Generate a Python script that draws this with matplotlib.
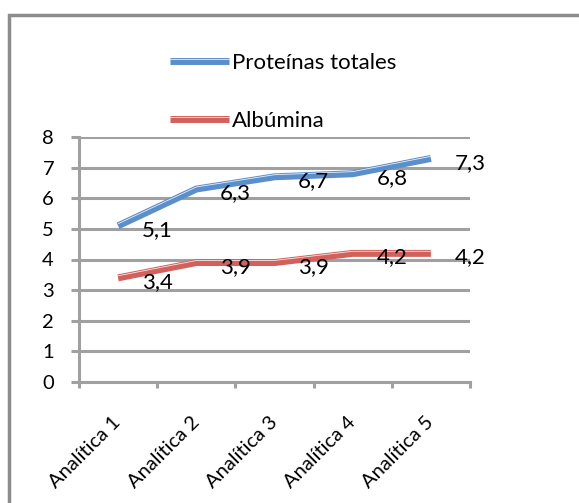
import matplotlib.pyplot as plt
import matplotlib.patheffects as pe
from matplotlib.patches import Rectangle
import numpy as np

# Series and category labels
analiticas = ['Analítica 1', 'Analítica 2', 'Analítica 3', 'Analítica 4', 'Analítica 5']
proteinas_totales = [5.1, 6.3, 6.7, 6.8, 7.3]
albumina = [3.4, 3.9, 3.9, 4.2, 4.2]

plt.rcParams['font.family'] = ['Lato', 'DejaVu Sans']

W, H, DPI = 579, 503, 100
fig = plt.figure(figsize=(W / DPI, H / DPI), dpi=DPI)
ax = fig.add_axes([79 / W, 1 - 382 / H, (470 - 79) / W, (382 - 137) / H])

gray = '#a0a0a0'
x = np.arange(len(analiticas))


def bevel(color):
    # thick line with a thin light edge on top
    return [pe.Stroke(linewidth=5.0, foreground=color, capstyle='butt'),
            pe.Stroke(linewidth=0.6, foreground='white', alpha=0.85, offset=(0, 1.5)),
            ]


series = [('Proteínas totales', proteinas_totales, '#5b8fcc'),
          ('Albúmina', albumina, '#d2605b')]
for name, vals, color in series:
    ax.plot(x, vals, color=color, lw=5.0, solid_joinstyle='round',
            solid_capstyle='butt', label=name, path_effects=bevel(color), zorder=3)
    for xi, v in zip(x, vals):
        ax.annotate(f'{v:.1f}'.replace('.', ','), (xi, v), xytext=(17, -3),
                    textcoords='offset points', ha='left', va='center',
                    fontsize=16, color='black', zorder=4)

ax.set_xlim(-0.5, len(analiticas) - 0.5)
ax.set_ylim(0, 8)
ax.set_yticks(range(0, 9))
ax.yaxis.grid(True, color=gray, lw=2.2)
ax.set_axisbelow(True)

for s in ['top', 'right']:
    ax.spines[s].set_visible(False)
for s in ['left', 'bottom']:
    ax.spines[s].set_color(gray)
    ax.spines[s].set_linewidth(2.2)

ax.tick_params(axis='y', direction='out', length=6, width=2.2, color=gray,
               labelsize=14.5, pad=12)
ax.set_xticks(x)
ax.set_xticklabels(analiticas, rotation=45, ha='right', va='center',
                   rotation_mode='anchor', fontsize=14.5)
ax.tick_params(axis='x', which='major', length=0, pad=27)
ax.set_xticks(np.arange(-0.5, len(analiticas)), minor=True)
ax.tick_params(axis='x', which='minor', direction='out', length=4, width=2.2, color=gray)

fig.legend(loc='upper left', bbox_to_anchor=(170 / W, 1 - 53 / H), frameon=False,
           fontsize=16, handlelength=2.65, handletextpad=0.15, labelspacing=1.7,
           borderaxespad=0, borderpad=0)

# chart frame
fig.patches.append(Rectangle((9 / W, -0.2), 1.5, 1.2 - 15 / H, transform=fig.transFigure,
                             fill=False, edgecolor='#8c8c8c', lw=2.5, clip_on=False))

fig.savefig('out.png', dpi=DPI)
